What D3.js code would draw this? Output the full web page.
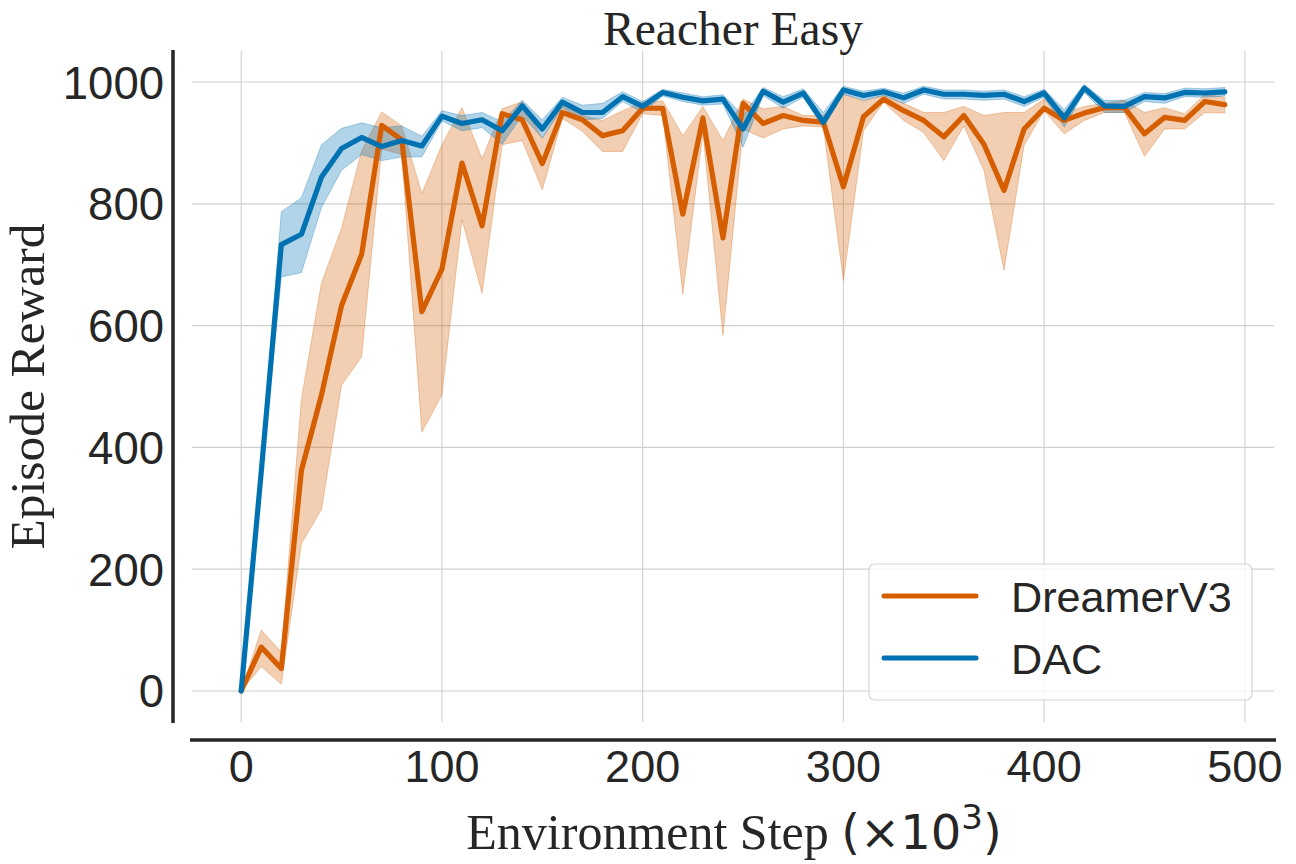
<!DOCTYPE html>
<html>
<head>
<meta charset="utf-8">
<script src="https://cdn.jsdelivr.net/npm/d3@7"></script>
<style>
  html, body { margin: 0; padding: 0; background: #fff; }
  svg { display: block; }
</style>
</head>
<body>
<svg id="chart" width="1296" height="864"></svg>
<script>
const steps = [0,10,20,30,40,50,60,70,80,90,100,110,120,130,140,150,160,170,180,190,200,210,220,230,240,250,260,270,280,290,300,310,320,330,340,350,360,370,380,390,400,410,420,430,440,450,460,470,480,490];

const dreamerMean = [0,72,37,362,486,633,717,929,905,623,693,867,764,948,938,866,950,938,912,920,957,957,783,941,744,965,932,945,937,934,828,943,972,953,937,910,945,898,822,923,957,937,949,958,958,915,942,937,968,963];
const dreamerLow  = [0,40,11,242,298,502,549,890,881,425,486,774,653,897,904,823,940,919,886,886,948,945,652,917,584,923,908,923,928,926,674,920,967,937,917,871,928,855,691,896,953,915,937,950,950,878,923,923,950,949];
const dreamerHigh = [0,100,64,479,670,760,887,951,928,817,897,958,874,956,968,907,962,945,937,953,967,969,912,960,904,972,956,960,945,945,980,969,978,965,950,950,960,945,950,950,972,950,960,965,970,950,958,948,980,975];

const dacMean = [0,360,733,750,844,891,909,894,904,895,944,932,938,920,961,923,967,950,950,976,960,983,975,969,972,923,985,967,982,934,987,978,984,974,987,980,980,978,980,968,982,941,990,961,960,976,974,983,982,984];
const dacLow  = [0,345,680,687,794,855,881,871,877,877,936,920,925,898,945,908,958,938,940,968,950,977,968,962,964,893,978,957,975,925,980,970,978,965,980,972,972,970,972,960,975,926,983,950,950,968,965,976,975,977];
const dacHigh = [0,375,787,810,897,924,933,925,928,911,953,945,950,935,970,938,975,962,965,984,968,988,982,976,979,945,991,976,989,950,993,985,990,982,993,987,987,985,987,976,988,955,996,970,970,983,981,990,989,991];

const xTicks = [0,100,200,300,400,500];
const yTicks = [0,200,400,600,800,1000];
const seriesNames = ["DreamerV3","DAC"];
const seriesColors = ["#d55e00","#0072b2"];

const title = "Reacher Easy";
const yLabel = "Episode Reward";

const W = 1296, H = 864;
const m = {left: 192, right: 1274, top: 51, bottom: 722};
const ink = "#262626";
const sans = "'Liberation Sans', Arial, sans-serif";
const serif = "'Liberation Serif', 'Times New Roman', serif";

const svg = d3.select("#chart");

const x = d3.scaleLinear().domain([-24.5, 514.5]).range([m.left, m.right]);
const y = d3.scaleLinear().domain([-51, 1051]).range([m.bottom, m.top]);

// grid
const grid = svg.append("g");
grid.selectAll(".vg").data(xTicks).enter().append("line")
  .attr("x1", d => x(d)).attr("x2", d => x(d))
  .attr("y1", m.top).attr("y2", m.bottom)
  .attr("stroke", "#d0d0d0").attr("stroke-width", 1.1);
grid.selectAll(".hg").data(yTicks).enter().append("line")
  .attr("x1", m.left).attr("x2", m.right)
  .attr("y1", d => y(d)).attr("y2", d => y(d))
  .attr("stroke", "#d0d0d0").attr("stroke-width", 1.1);

const series = [
  {name: seriesNames[0], color: seriesColors[0], mean: dreamerMean, low: dreamerLow, high: dreamerHigh},
  {name: seriesNames[1], color: seriesColors[1], mean: dacMean, low: dacLow, high: dacHigh}
];

const area = d3.area()
  .x((d, i) => x(steps[i]))
  .y0(d => y(d[0]))
  .y1(d => y(d[1]));
const line = d3.line()
  .x((d, i) => x(steps[i]))
  .y(d => y(d));

const plot = svg.append("g");
series.forEach(s => {
  const band = s.low.map((v, i) => [v, s.high[i]]);
  plot.append("path")
    .attr("d", area(band))
    .attr("fill", s.color).attr("fill-opacity", 0.3)
    .attr("stroke", s.color).attr("stroke-opacity", 0.3).attr("stroke-width", 1);
});
series.forEach(s => {
  plot.append("path")
    .attr("d", line(s.mean))
    .attr("fill", "none")
    .attr("stroke", s.color).attr("stroke-width", 5.2)
    .attr("stroke-linejoin", "round").attr("stroke-linecap", "round");
});

// spines (offset, seaborn despine style)
svg.append("line")
  .attr("x1", 173).attr("x2", 173).attr("y1", m.top - 1).attr("y2", m.bottom + 1)
  .attr("stroke", ink).attr("stroke-width", 3.5);
svg.append("line")
  .attr("x1", m.left - 2).attr("x2", m.right + 2).attr("y1", 740).attr("y2", 740)
  .attr("stroke", ink).attr("stroke-width", 3.5);

// tick labels
svg.append("g").selectAll("text").data(xTicks).enter().append("text")
  .attr("x", d => x(d)).attr("y", 782)
  .attr("text-anchor", "middle")
  .attr("font-family", sans).attr("font-size", 45).attr("fill", ink)
  .text(d => d);
svg.append("g").selectAll("text").data(yTicks).enter().append("text")
  .attr("x", 164).attr("y", d => y(d) + 16.5)
  .attr("text-anchor", "end")
  .attr("font-family", sans).attr("font-size", 45.5).attr("fill", ink)
  .text(d => d);

// title
svg.append("text")
  .attr("x", (m.left + m.right) / 2).attr("y", 45)
  .attr("text-anchor", "middle")
  .attr("font-family", serif).attr("font-size", 47.5).attr("fill", ink)
  .text(title);

// x label
const xl = svg.append("text")
  .attr("x", (m.left + m.right) / 2 + 1).attr("y", 849)
  .attr("text-anchor", "middle")
  .attr("font-family", serif).attr("font-size", 50).attr("fill", ink);
xl.append("tspan").text("Environment Step ");
xl.append("tspan").attr("font-family", "'DejaVu Sans', sans-serif").attr("font-size", 48).text("(×10");
xl.append("tspan").attr("font-family", "'DejaVu Sans', sans-serif").attr("font-size", 34).attr("dy", -20).text("3");
xl.append("tspan").attr("font-family", "'DejaVu Sans', sans-serif").attr("font-size", 48).attr("dy", 20).text(")");

// y label
svg.append("text")
  .attr("transform", `translate(44, ${(m.top + m.bottom) / 2}) rotate(-90)`)
  .attr("text-anchor", "middle")
  .attr("font-family", serif).attr("font-size", 49.5).attr("fill", ink)
  .text(yLabel);

// legend
const lg = svg.append("g");
const lx = m.right - 22 - 383, ly = m.bottom - 22 - 136;
lg.append("rect")
  .attr("x", lx).attr("y", ly).attr("width", 383).attr("height", 136)
  .attr("rx", 6).attr("ry", 6)
  .attr("fill", "#ffffff").attr("fill-opacity", 0.8)
  .attr("stroke", "#d6d6d6").attr("stroke-width", 1.2);
series.forEach((s, i) => {
  const cy = ly + 32 + i * 62;
  lg.append("line")
    .attr("x1", lx + 15).attr("x2", lx + 107).attr("y1", cy).attr("y2", cy)
    .attr("stroke", s.color).attr("stroke-width", 5).attr("stroke-linecap", "round");
  lg.append("text")
    .attr("x", lx + 142).attr("y", cy + 15.5)
    .attr("font-family", sans).attr("font-size", 43.2).attr("fill", ink)
    .text(s.name);
});
</script>
</body>
</html>
